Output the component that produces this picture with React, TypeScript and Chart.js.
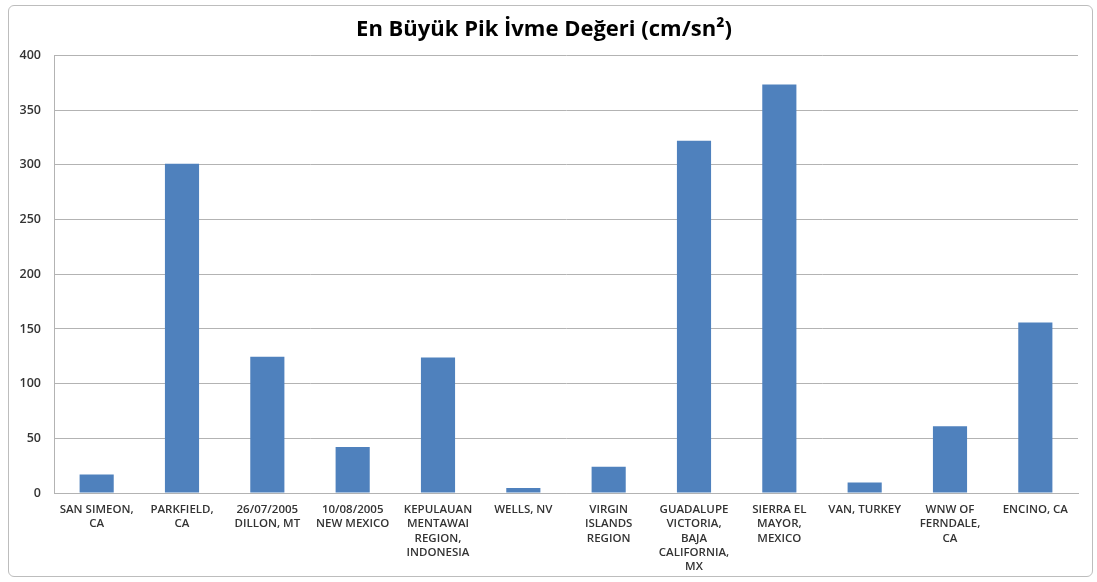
import React, { useEffect, useRef } from "react";
import { Chart, registerables } from "chart.js";

Chart.register(...registerables);

const titleText = "En Büyük Pik İvme Değeri (cm/sn²)";

const categories: (string | string[])[] = [
  ["SAN SIMEON,", "CA"],
  ["PARKFIELD,", "CA"],
  ["26/07/2005", "DILLON, MT"],
  ["10/08/2005", "NEW MEXICO"],
  ["KEPULAUAN", "MENTAWAI", "REGION,", "INDONESIA"],
  "WELLS, NV",
  ["VIRGIN", "ISLANDS", "REGION"],
  ["GUADALUPE", "VICTORIA,", "BAJA", "CALIFORNIA,", "MX"],
  ["SIERRA EL", "MAYOR,", "MEXICO"],
  "VAN, TURKEY",
  ["WNW OF", "FERNDALE,", "CA"],
  "ENCINO, CA",
];

const peakValues = [17, 301, 124.5, 42, 124, 4.5, 24, 322, 373.5, 9.5, 61, 156];

const yMin = 0;
const yMax = 400;
const yStep = 50;

const W = 1097;
const H = 582;

export default function App() {
  const ref = useRef<HTMLCanvasElement | null>(null);

  useEffect(() => {
    if (!ref.current) return;
    const textColor = "#333333";
    const gridColor = "#b3b3b3";
    const chart = new Chart(ref.current, {
      type: "bar",
      data: {
        labels: categories,
        datasets: [
          {
            label: titleText,
            data: peakValues,
            backgroundColor: "#4f81bd",
            borderWidth: 0,
            barPercentage: 0.4,
            categoryPercentage: 1,
          },
        ],
      },
      options: {
        responsive: false,
        animation: false,
        layout: { padding: { left: 10, right: 19, top: 8, bottom: 0 } },
        plugins: {
          legend: { display: false },
          tooltip: { enabled: false },
          title: {
            display: true,
            text: titleText,
            color: "#000000",
            font: { family: "'Open Sans', sans-serif", size: 22, weight: "bold", lineHeight: 1.2 },
            padding: { top: 8.8, bottom: 12.3 },
          },
        },
        scales: {
          x: {
            grid: { display: false, drawTicks: false },
            border: { display: true, color: gridColor, width: 1 },
            ticks: {
              color: textColor,
              font: { family: "'Open Sans', sans-serif", size: 11.5, weight: "600", lineHeight: 1.26 },
              padding: 9,
              maxRotation: 0,
              minRotation: 0,
              autoSkip: false,
            },
            afterFit: (s: any) => {
              s.height = 89;
            },
          },
          y: {
            min: yMin,
            max: yMax,
            grid: { color: gridColor, drawTicks: false, lineWidth: 1 },
            border: { display: true, color: gridColor, width: 1 },
            ticks: {
              stepSize: yStep,
              color: textColor,
              font: { family: "'Open Sans', sans-serif", size: 12.5, weight: "600" },
              padding: 13,
            },
            afterFit: (s: any) => {
              s.width = 44;
            },
          },
        },
      },
    });
    return () => chart.destroy();
  }, []);

  return (
    <div style={{ position: "absolute", left: 0, top: 0, width: W, height: H, background: "#ffffff" }}>
      <div
        style={{
          position: "absolute",
          left: 8,
          top: 5,
          width: 1085,
          height: 572,
          border: "1px solid #bdbdbd",
          borderRadius: 6,
          boxSizing: "border-box",
        }}
      />
      <canvas ref={ref} width={W} height={H} style={{ position: "absolute", left: 0, top: 0, width: W, height: H }} />
    </div>
  );
}
